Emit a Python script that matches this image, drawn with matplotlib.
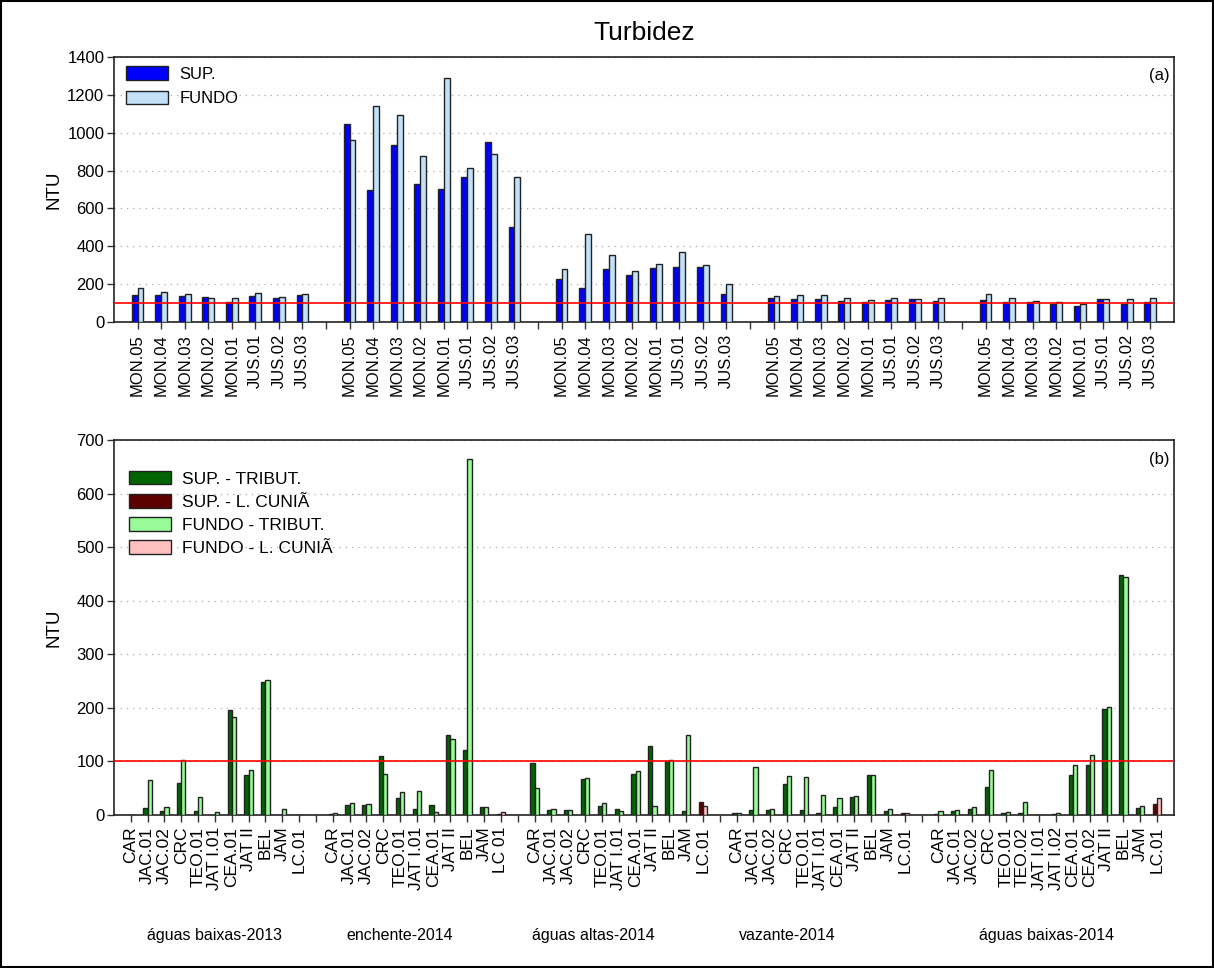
import matplotlib
matplotlib.use("Agg")
import matplotlib.pyplot as plt
from matplotlib.patches import Rectangle, Patch
from matplotlib.transforms import blended_transform_factory

plt.rcParams['font.family'] = ['Liberation Sans', 'DejaVu Sans']

periods = ["águas baixas-2013", "enchente-2014", "águas altas-2014",
           "vazante-2014", "águas baixas-2014"]

# Panel (a): main-channel stations, surface vs. bottom
stations_a = ["MON.05", "MON.04", "MON.03", "MON.02", "MON.01",
              "JUS.01", "JUS.02", "JUS.03"]
sup_a = [
    [145, 140, 136, 131, 108, 138, 126, 140],
    [1047, 695, 935, 730, 700, 768, 948, 499],
    [226, 179, 279, 248, 285, 288, 292, 149],
    [127, 120, 120, 113, 106, 115, 120, 110],
    [115, 104, 108, 97, 85, 120, 97, 104],
]
fundo_a = [
    [180, 157, 147, 127, 124, 154, 134, 147],
    [962, 1142, 1091, 877, 1287, 815, 886, 768],
    [281, 465, 354, 267, 306, 370, 299, 200],
    [136, 140, 143, 126, 117, 127, 120, 126],
    [147, 126, 111, 104, 94, 120, 120, 127],
]

# Panel (b): tributaries and Lago Cuniã
stations_b = [
    ["CAR", "JAC.01", "JAC.02", "CRC", "TEO.01", "JAT I.01", "CEA.01",
     "JAT II", "BEL", "JAM", "LC.01"],
    ["CAR", "JAC.01", "JAC.02", "CRC", "TEO.01", "JAT I.01", "CEA.01",
     "JAT II", "BEL", "JAM", "LC 01"],
    ["CAR", "JAC.01", "JAC.02", "CRC", "TEO.01", "JAT I.01", "CEA.01",
     "JAT II", "BEL", "JAM", "LC.01"],
    ["CAR", "JAC.01", "JAC.02", "CRC", "TEO.01", "JAT I.01", "CEA.01",
     "JAT II", "BEL", "JAM", "LC.01"],
    ["CAR", "JAC.01", "JAC.02", "CRC", "TEO.01", "TEO.02", "JAT I.01",
     "JAT I.02", "CEA.01", "CEA.02", "JAT II", "BEL", "JAM", "LC.01"],
]
sup_b = [
    [0, 13, 7, 60, 8, 0, 196, 75, 248, 0, 0],
    [2, 18, 19, 110, 32, 11, 19, 150, 121, 14, 1],
    [97, 10, 10, 67, 16, 12, 77, 128, 100, 7, 24],
    [4, 10, 10, 58, 10, 4, 14, 34, 75, 8, 3],
    [2, 8, 11, 52, 3, 3, 0, 1, 75, 93, 197, 448, 13, 21],
]
fundo_b = [
    [0, 66, 14, 103, 34, 6, 183, 83, 252, 12, 0],
    [3, 22, 20, 77, 42, 45, 5, 141, 664, 14, 5],
    [50, 11, 9, 69, 23, 8, 82, 16, 102, 150, 17],
    [3, 89, 12, 72, 70, 37, 31, 35, 75, 12, 4],
    [8, 9, 14, 83, 6, 25, 0, 4, 94, 112, 202, 445, 17, 31],
]

limit_ntu = 100
period_label_x = [6.0, 17.0, 28.5, 40.0, 55.4]

C_SUP_A, C_FUNDO_A = "#0000ff", "#c2e0f8"
C_SUP_T, C_SUP_L = "#006400", "#5c0000"
C_FUNDO_T, C_FUNDO_L = "#98fb98", "#ffc0c0"
EDGE = "#222222"
BW = 0.25


def slot_layout(groups):
    """Bar positions per group plus tick positions/labels, with a blank slot between groups."""
    p = 1
    group_pos, ticks, labels = [], [], []
    for gi, g in enumerate(groups):
        if gi > 0:
            ticks.append(p)
            labels.append("")
            p += 1
        pos = []
        for name in g:
            pos.append(p)
            ticks.append(p)
            labels.append(name)
            p += 1
        group_pos.append(pos)
    return group_pos, ticks, labels, p


def style_axes(ax, ylim, yticks):
    ax.set_ylim(*ylim)
    ax.set_yticks(yticks)
    ax.yaxis.grid(True, linestyle=(0, (1, 4)), color="#aaaaaa", linewidth=0.9)
    ax.set_axisbelow(True)
    ax.tick_params(axis="both", direction="out", length=5, width=1, color="#333333")
    ax.tick_params(axis="y", labelsize=12, pad=2)
    for s in ax.spines.values():
        s.set_linewidth(1.2)
        s.set_color("#222222")
    ax.axhline(limit_ntu, color="red", linewidth=1.2, zorder=4)
    ax.set_ylabel("NTU", fontsize=13.5)
    ax.yaxis.set_label_coords(-0.049, 0.5)


fig = plt.figure(figsize=(12.14, 9.68), dpi=100)
fig.patches.append(Rectangle((0.001, 0.001), 0.998, 0.998, transform=fig.transFigure,
                             fill=False, edgecolor="black", linewidth=1.5, zorder=10))
fig.text(0.5305, 0.966, "Turbidez", ha="center", va="center", fontsize=19)

# ---- panel (a)
ax1 = fig.add_axes([0.0939, 0.6674, 0.8731, 0.2738])
gpos, ticks, labels, nslots = slot_layout([stations_a] * len(periods))
for pos, s, f in zip(gpos, sup_a, fundo_a):
    ax1.bar([x - BW / 2 for x in pos], s, width=BW, color=C_SUP_A,
            edgecolor=EDGE, linewidth=1, zorder=3)
    ax1.bar([x + BW / 2 for x in pos], f, width=BW, color=C_FUNDO_A,
            edgecolor=EDGE, linewidth=1, zorder=3)
ax1.set_xlim(0, nslots)
ax1.set_xticks(ticks)
ax1.set_xticklabels(labels, rotation=90, fontsize=12)
style_axes(ax1, (0, 1400), range(0, 1401, 200))
ax1.legend(handles=[Patch(facecolor=C_SUP_A, edgecolor=EDGE, label="SUP."),
                    Patch(facecolor=C_FUNDO_A, edgecolor=EDGE, label="FUNDO")],
           loc="upper left", bbox_to_anchor=(0.0113, 0.964), borderaxespad=0,
           borderpad=0, frameon=False, fontsize=12, handlelength=2.5,
           handleheight=0.85, handletextpad=0.7, labelspacing=0.52)
ax1.text(0.996, 0.93, "(a)", transform=ax1.transAxes, ha="right", va="center", fontsize=12)

# ---- panel (b)
ax2 = fig.add_axes([0.0939, 0.1581, 0.8731, 0.3874])
gpos, ticks, labels, nslots = slot_layout(stations_b)
for pos, names, s, f in zip(gpos, stations_b, sup_b, fundo_b):
    lake = [n.startswith("LC") for n in names]
    ax2.bar([x - BW / 2 for x in pos], s, width=BW,
            color=[C_SUP_L if l else C_SUP_T for l in lake],
            edgecolor=EDGE, linewidth=1, zorder=3)
    ax2.bar([x + BW / 2 for x in pos], f, width=BW,
            color=[C_FUNDO_L if l else C_FUNDO_T for l in lake],
            edgecolor=EDGE, linewidth=1, zorder=3)
ax2.set_xlim(0, nslots)
ax2.set_xticks(ticks)
ax2.set_xticklabels(labels, rotation=90, fontsize=12.5)
style_axes(ax2, (0, 700), range(0, 701, 100))
ax2.legend(handles=[Patch(facecolor=C_SUP_T, edgecolor=EDGE, label="SUP. - TRIBUT."),
                    Patch(facecolor=C_SUP_L, edgecolor=EDGE, label="SUP. - L. CUNIÃ"),
                    Patch(facecolor=C_FUNDO_T, edgecolor=EDGE, label="FUNDO - TRIBUT."),
                    Patch(facecolor=C_FUNDO_L, edgecolor=EDGE, label="FUNDO - L. CUNIÃ")],
           loc="upper left", bbox_to_anchor=(0.0142, 0.917), borderaxespad=0,
           borderpad=0, frameon=False, fontsize=12.5, handlelength=2.4,
           handleheight=0.8, handletextpad=0.65, labelspacing=0.43)
ax2.text(0.996, 0.949, "(b)", transform=ax2.transAxes, ha="right", va="center", fontsize=12)

label_tr = blended_transform_factory(ax2.transData, fig.transFigure)
for lx, name in zip(period_label_x, periods):
    ax2.text(lx, 0.034, name, transform=label_tr, ha="center", va="center", fontsize=11.5)

fig.savefig("out.png", dpi=100)
